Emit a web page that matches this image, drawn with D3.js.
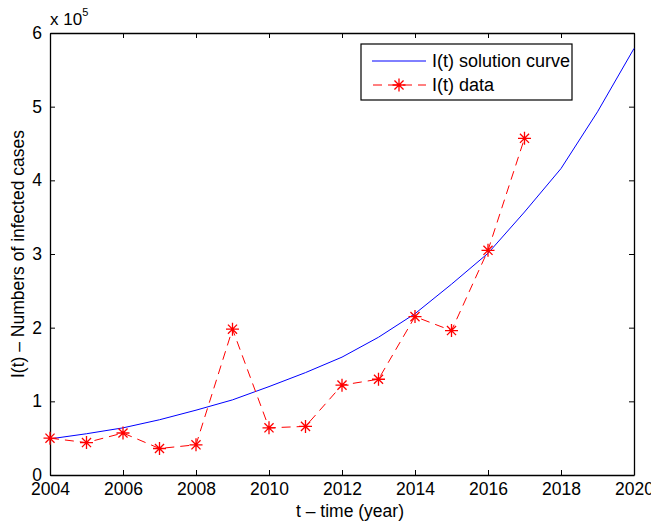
<!DOCTYPE html>
<html>
<head>
<meta charset="utf-8">
<script src="https://cdn.jsdelivr.net/npm/d3@7"></script>
<style>
  body { margin: 0; background: #fff; }
  svg { font-family: "Liberation Sans", Arial, sans-serif; }
</style>
</head>
<body>
<svg id="chart" width="651" height="524"></svg>
<script>
// values in units of 1e5
const curveYears = d3.range(2004, 2021);
const curveValues = [0.49, 0.56, 0.64, 0.75, 0.88, 1.02, 1.20, 1.39, 1.60, 1.87, 2.19, 2.59, 3.01, 3.57, 4.16, 4.93, 5.79];
const dataYears = d3.range(2004, 2018);
const dataValues = [0.50, 0.44, 0.57, 0.36, 0.41, 1.98, 0.64, 0.66, 1.22, 1.30, 2.15, 1.96, 3.05, 4.57];
const xTicks = [2004, 2006, 2008, 2010, 2012, 2014, 2016, 2018, 2020];
const yTicks = [0, 1, 2, 3, 4, 5, 6];

const margin = { top: 33, left: 50, bottom: 49, right: 17 };
const width = 651, height = 524;
const innerwidth = width - margin.left - margin.right;
const innerheight = height - margin.top - margin.bottom;

const svg = d3.select('#chart');
const canvas = svg.append('g')
    .attr('transform', `translate(${margin.left},${margin.top})`);

const xScale = d3.scaleLinear().domain([2004, 2020]).range([0, innerwidth]);
const yScale = d3.scaleLinear().domain([0, 6]).range([innerheight, 0]);

// axes with inward ticks, on all four sides
const tick = 5;
canvas.append('g')
    .attr('transform', `translate(0,${innerheight})`)
    .call(d3.axisBottom(xScale).tickValues(xTicks).tickFormat(d3.format('d')).tickSizeInner(-tick).tickSizeOuter(0).tickPadding(8));
canvas.append('g')
    .call(d3.axisTop(xScale).tickValues(xTicks).tickFormat('').tickSizeInner(-tick).tickSizeOuter(0));
canvas.append('g')
    .call(d3.axisLeft(yScale).tickValues(yTicks).tickFormat(d3.format('d')).tickSizeInner(-tick).tickSizeOuter(0).tickPadding(8));
canvas.append('g')
    .attr('transform', `translate(${innerwidth},0)`)
    .call(d3.axisRight(yScale).tickValues(yTicks).tickFormat('').tickSizeInner(-tick).tickSizeOuter(0));

canvas.selectAll('.domain').attr('stroke', '#000').attr('stroke-width', 1.3);
canvas.selectAll('.tick line').attr('stroke', '#000');
canvas.selectAll('.tick text').attr('font-size', '17.5px').attr('fill', '#000')
    .attr('font-family', '"Liberation Sans", Arial, sans-serif');

// solution curve
const line = d3.line().x(d => xScale(d[0])).y(d => yScale(d[1]));
canvas.append('path')
    .datum(curveYears.map((y, i) => [y, curveValues[i]]))
    .attr('d', line)
    .attr('fill', 'none')
    .attr('stroke', '#0000ff')
    .attr('stroke-width', 1);

// data
const pts = dataYears.map((y, i) => [y, dataValues[i]]);
canvas.append('path')
    .datum(pts)
    .attr('d', line)
    .attr('fill', 'none')
    .attr('stroke', '#ff0000')
    .attr('stroke-width', 1)
    .attr('stroke-dasharray', '9,6');

const star = (g, r) => {
    g.append('path')
        .attr('d', `M${-r},0H${r}M0,${-r}V${r}M${-r*0.7},${-r*0.7}L${r*0.7},${r*0.7}M${-r*0.7},${r*0.7}L${r*0.7},${-r*0.7}`)
        .attr('stroke', '#ff0000')
        .attr('stroke-width', 1.3)
        .attr('fill', 'none');
};
canvas.selectAll('.marker')
    .data(pts)
    .enter()
    .append('g')
    .attr('class', 'marker')
    .attr('transform', d => `translate(${xScale(d[0])},${yScale(d[1])})`)
    .each(function () { star(d3.select(this), 6.5); });

// axis labels
svg.append('text')
    .text('t \u2013 time (year)')
    .attr('x', margin.left + innerwidth / 2 + 8)
    .attr('y', 517)
    .attr('text-anchor', 'middle')
    .attr('font-size', '17.5px');
svg.append('text')
    .text('I(t) \u2013 Numbers of infected cases')
    .attr('transform', `translate(24,${margin.top + innerheight / 2}) rotate(-90)`)
    .attr('text-anchor', 'middle')
    .attr('font-size', '17.5px');
const mult = svg.append('text')
    .attr('x', 50)
    .attr('y', 25)
    .attr('font-size', '17px');
mult.append('tspan').text('x 10');
mult.append('tspan').text('5').attr('font-size', '11px').attr('dy', -9);

// legend
const legend = svg.append('g');
legend.append('rect')
    .attr('x', 361).attr('y', 44)
    .attr('width', 211).attr('height', 56)
    .attr('fill', '#fff').attr('stroke', '#000').attr('stroke-width', 1.2);
legend.append('line')
    .attr('x1', 372).attr('x2', 426).attr('y1', 61).attr('y2', 61)
    .attr('stroke', '#0000ff');
legend.append('line')
    .attr('x1', 372).attr('x2', 426).attr('y1', 85).attr('y2', 85)
    .attr('stroke', '#ff0000').attr('stroke-dasharray', '9,6').attr('stroke-dashoffset', -1);
star(legend.append('g').attr('transform', 'translate(399,85)'), 6.5);
legend.append('text').text('I(t) solution curve')
    .attr('x', 432).attr('y', 67).attr('font-size', '18px');
legend.append('text').text('I(t) data')
    .attr('x', 432).attr('y', 91).attr('font-size', '18px');
</script>
</body>
</html>
